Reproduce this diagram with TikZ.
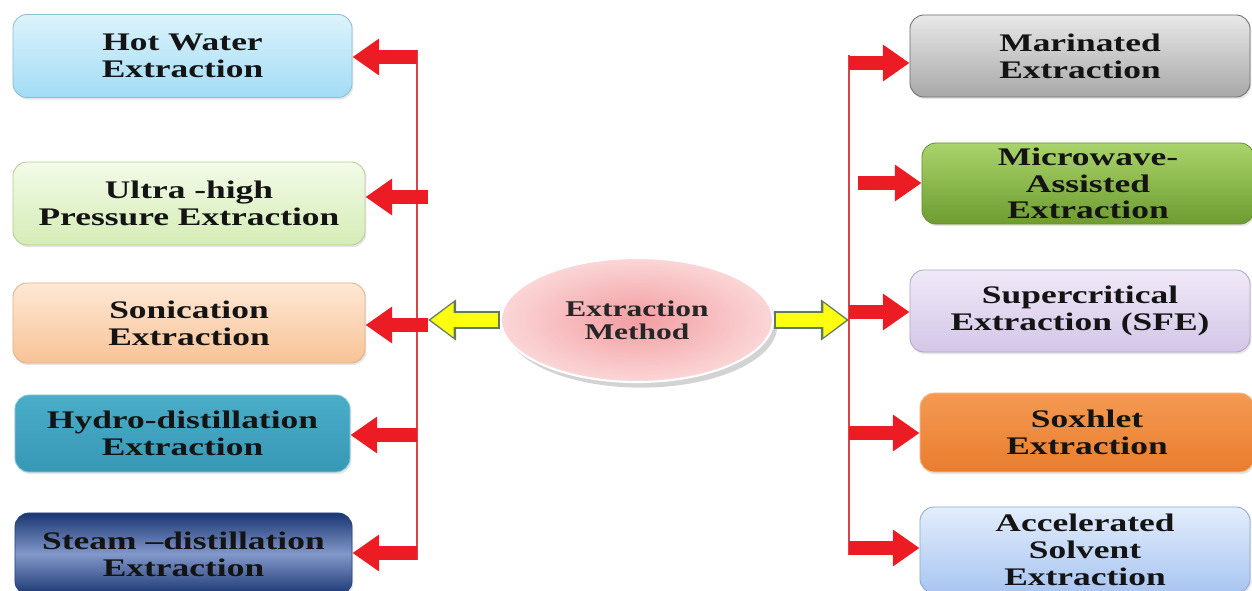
\documentclass[tikz,border=0pt]{standalone}
\usepackage{fontspec}
\setmainfont[FakeStretch=1.4]{Liberation Serif}
\usetikzlibrary{arrows.meta,shapes.geometric,shadows}

\definecolor{arrred}{HTML}{EC1C24}
\definecolor{linered}{HTML}{D9434A}
\definecolor{yelbd}{HTML}{5F7A63}
\definecolor{yelfill}{HTML}{FFFF10}
\definecolor{hotT}{HTML}{DCF3FC}\definecolor{hotB}{HTML}{A2DCF5}\definecolor{hotD}{HTML}{8DBFD2}
\definecolor{ultT}{HTML}{F3FBE8}\definecolor{ultB}{HTML}{D5ECB6}\definecolor{ultD}{HTML}{B4CE96}
\definecolor{sonT}{HTML}{FEE8D5}\definecolor{sonB}{HTML}{F8C396}\definecolor{sonD}{HTML}{E2B18C}
\definecolor{hydT}{HTML}{4AADC8}\definecolor{hydB}{HTML}{3798B5}\definecolor{hydD}{HTML}{8CC8DA}
\definecolor{steT}{HTML}{1A3672}\definecolor{steM}{HTML}{8298CA}\definecolor{steD}{HTML}{2A4580}
\definecolor{marT}{HTML}{E8E8E8}\definecolor{marB}{HTML}{A8A8A8}\definecolor{marD}{HTML}{6E6E6E}
\definecolor{micT}{HTML}{A9D46B}\definecolor{micB}{HTML}{6E9C31}\definecolor{micD}{HTML}{6A8E3C}
\definecolor{supT}{HTML}{F0E9F8}\definecolor{supB}{HTML}{D3C6E7}\definecolor{supD}{HTML}{B1A4C7}
\definecolor{soxT}{HTML}{F49A52}\definecolor{soxB}{HTML}{E97D2E}\definecolor{soxD}{HTML}{F6C49C}
\definecolor{accT}{HTML}{E3EDFC}\definecolor{accB}{HTML}{A8C5F1}\definecolor{accD}{HTML}{8EA8CF}
\definecolor{methIn}{HTML}{F29DA1}
\definecolor{methOut}{HTML}{FBD6D7}

\begin{document}
\begin{tikzpicture}[x=0.025cm, y=-0.025cm,
    box/.style n args={3}{draw=#3, line width=0.6pt, top color=#1, bottom color=#2,
        rounded corners=0.35cm, align=center, text=black!92, inner sep=0pt,
        font=\fontsize{18}{19}\selectfont\bfseries,
        drop shadow={opacity=0.2, shadow xshift=1pt, shadow yshift=-1.5pt}},
    redarr/.style={draw=arrred, line width=9.5pt, -{Triangle[length=19pt,width=25pt]}},
    yelout/.style={draw=yelbd, line width=12.5pt, -{Triangle[length=20pt,width=28pt]}},
    yelin/.style={draw=yelfill, line width=10pt, shorten >=1.8pt, shorten <=1.2pt,
        -{Triangle[length=16.5pt,width=23.5pt]}}]

    \useasboundingbox (0,0) rectangle (1252,591);

    % left column
    \node[box={hotT}{hotB}{hotD}, minimum width=8.475cm, minimum height=2.075cm] (hot) at (182.5,56) {Hot Water\\Extraction};
    \node[box={ultT}{ultB}{ultD}, minimum width=8.8cm, minimum height=2.075cm] (ultra) at (189,203.5) {Ultra -high\\Pressure Extraction};
    \node[box={sonT}{sonB}{sonD}, minimum width=8.8cm, minimum height=2cm] (sonic) at (189,323) {Sonication\\Extraction};
    \node[box={hydT}{hydB}{hydD}, minimum width=8.375cm, minimum height=1.925cm] (hydro) at (182.5,433.5) {Hydro-distillation\\Extraction};
    \node[box={steT}{steT}{steD}, middle color=steM, minimum width=8.425cm, minimum height=2.05cm] (steam) at (183.5,554) {Steam --distillation\\Extraction};

    % right column
    \node[box={marT}{marB}{marD}, minimum width=8.5cm, minimum height=2.05cm] (marin) at (1080,56) {Marinated\\Extraction};
    \node[box={micT}{micB}{micD}, minimum width=8.3cm, minimum height=2.025cm] (micro) at (1088,183.5) {Microwave-\\Assisted\\Extraction};
    \node[box={supT}{supB}{supD}, minimum width=8.5cm, minimum height=2.05cm] (super) at (1080,311) {Supercritical\\Extraction (SFE)};
    \node[box={soxT}{soxB}{soxD}, minimum width=8.35cm, minimum height=1.975cm] (soxh) at (1087,432.5) {Soxhlet\\Extraction};
    \node[box={accT}{accB}{accD}, minimum width=8.25cm, minimum height=2.15cm] (accel) at (1085,550) {Accelerated\\Solvent\\Extraction};

    % centre
    \node[ellipse, draw=white, line width=1.5pt, inner color=methIn, outer color=methOut,
        minimum width=6.8cm, minimum height=3.1cm, align=center, text=black!85,
        font=\fontsize{16}{16.5}\selectfont\bfseries,
        drop shadow={opacity=0.35, shadow xshift=3pt, shadow yshift=-4pt}] (meth) at (637,320) {Extraction\\Method};

    % red bus lines
    \coordinate (ltop) at (417,50);
    \coordinate (lbot) at (417,560);
    \coordinate (rtop) at (849,55);
    \coordinate (rbot) at (849,555);
    \draw[linered, line width=0.8pt] (ltop) -- (lbot);
    \draw[linered, line width=0.8pt] (rtop) -- (rbot);

    % red arrows
    \foreach \b/\tx/\ty [count=\i] in {hot/417/57, ultra/428/197, sonic/428/325, hydro/417/435, steam/417/553} {
        \coordinate (lt\i) at (\tx,\ty);
        \draw[redarr] (lt\i) -- (lt\i -| \b.east);
    }
    \foreach \b/\tx/\ty [count=\i] in {marin/849/63, micro/858/183, super/849/312, soxh/849/433, accel/849/548} {
        \coordinate (rt\i) at (\tx,\ty);
        \draw[redarr] (rt\i) -- (rt\i -| \b.west);
    }

    % yellow arrows
    \coordinate (yl) at (428,320);
    \coordinate (yr) at (849,320);
    \draw[yelout] (meth.west) -- (yl);
    \draw[yelin] (meth.west) -- (yl);
    \draw[yelout] (meth.east) -- (yr);
    \draw[yelin] (meth.east) -- (yr);
\end{tikzpicture}
\end{document}
